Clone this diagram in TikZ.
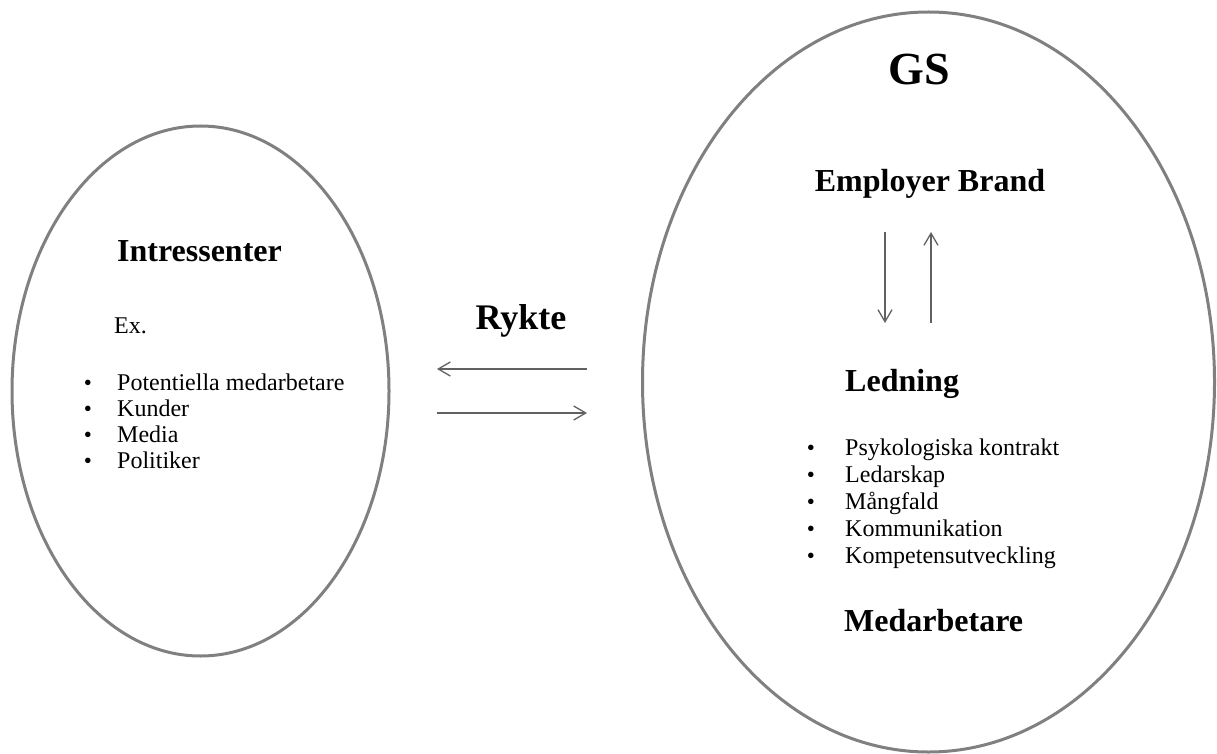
\documentclass[tikz,border=0pt]{standalone}
\usepackage{fontspec}
\setmainfont{Liberation Serif}
\usetikzlibrary{arrows.meta,shapes.geometric}
\begin{document}
\begin{tikzpicture}[x=1pt,y=-1pt,
  oval/.style={draw=black!50,line width=3pt,ellipse,inner sep=0pt},
  flow/.style={draw=black!62,line width=1.5pt,-{Straight Barb[length=12pt,width=14pt,line width=1.3pt]}},
  head/.style={font=\bfseries\fontsize{32}{36}\selectfont,inner sep=0pt},
  big/.style={font=\bfseries\fontsize{46}{50}\selectfont,inner sep=0pt},
  item/.style={font=\fontsize{24}{27}\selectfont,inner sep=0pt,anchor=base west},
  dot/.style={font=\fontsize{23}{26}\selectfont,inner sep=0pt,anchor=base}]
\useasboundingbox (0,0) rectangle (1217,754);
\fill[white] (0,0) rectangle (1217,754);
% ellipses
\node[oval,minimum width=377pt,minimum height=530pt] (L) at (200.5,391) {};
\node[oval,minimum width=572pt,minimum height=740pt] (R) at (928.5,382) {};
% left texts
\node[head,anchor=base] (intr) at (199.5,261) {Intressenter};
\node[item] (ex) at (114,333) {Ex.};
\foreach \t/\y [count=\i] in {Potentiella medarbetare/390,Kunder/416,Media/442,Politiker/468}{
  \node[dot] (lb\i) at (88,\y) {•};
  \node[item] (li\i) at (117,\y) {\t};
}
% middle
\node[font=\bfseries\fontsize{36}{40}\selectfont,inner sep=0pt,anchor=base] (rykte) at (521,329) {Rykte};
\coordinate (a1) at (587,369);
\coordinate (a2) at (437,369);
\coordinate (b1) at (437,413);
\coordinate (b2) at (587,413);
\draw[flow] (a1) -- (a2);
\draw[flow] (b1) -- (b2);
% right texts
\node[big,anchor=base] (gs) at (919,85) {GS};
\node[head,anchor=base] (eb) at (930,191) {Employer Brand};
\coordinate (d1) at (885,232);
\coordinate (d2) at (885,323);
\coordinate (u1) at (931,323);
\coordinate (u2) at (931,232);
\draw[flow] (d1) -- (d2);
\draw[flow] (u1) -- (u2);
\node[head,anchor=base west] (led) at (845,391) {Ledning};
\foreach \t/\y [count=\i] in {Psykologiska kontrakt/455,Ledarskap/482,Mångfald/509,Kommunikation/536,Kompetensutveckling/563}{
  \node[dot] (rb\i) at (811,\y) {•};
  \node[item] (ri\i) at (845,\y) {\t};
}
\node[head,anchor=base west] (med) at (844,631) {Medarbetare};
\end{tikzpicture}
\end{document}
